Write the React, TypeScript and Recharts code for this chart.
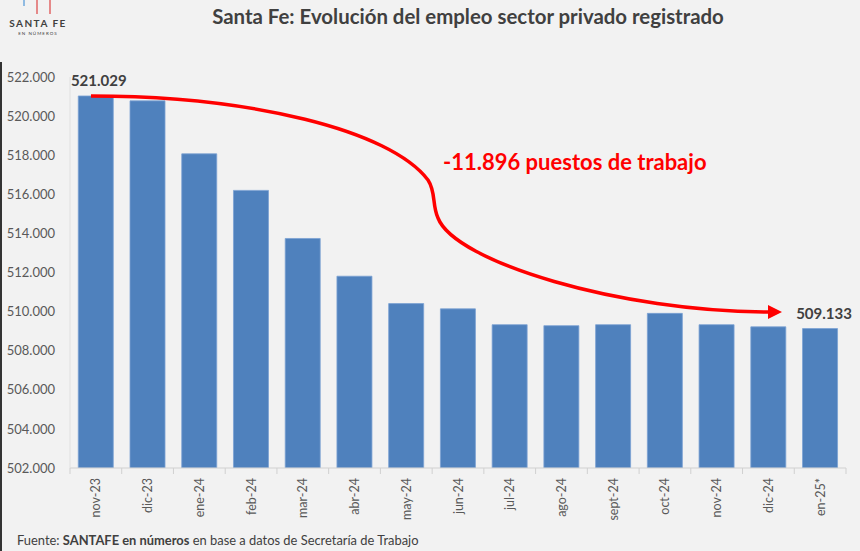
import React from 'react';
import { BarChart, Bar, XAxis, YAxis, LabelList } from 'recharts';

const categories = ['nov-23','dic-23','ene-24','feb-24','mar-24','abr-24','may-24','jun-24','jul-24','ago-24','sept-24','oct-24','nov-24','dic-24','en-25*'];
const empleo = [521029, 520780, 518070, 516200, 513740, 511810, 510410, 510140, 509330, 509280, 509330, 509910, 509330, 509220, 509133];
const yTicks = [502000, 504000, 506000, 508000, 510000, 512000, 514000, 516000, 518000, 520000, 522000];
const titulo = 'Santa Fe: Evolución del empleo sector privado registrado';
const anotacion = '-11.896 puestos de trabajo';

const data = categories.map((c, i) => ({ cat: c, v: empleo[i] }));
const fmt = (n: number) => n.toLocaleString('de-DE');

const W = 860, H = 551;
const PLOT_L = 70, PLOT_R = 846, PLOT_T = 77, PLOT_B = 468;
const BAND = (PLOT_R - PLOT_L) / categories.length;
const FONT = 'Lato, "Open Sans", sans-serif';

const XTick = (props: any) => {
  const { x, y, payload, index } = props;
  const last = index === categories.length - 1;
  return (
    <g>
      <line x1={x - BAND / 2} x2={x - BAND / 2} y1={y} y2={y + 6} stroke="#d0d0d0" />
      {last && <line x1={x + BAND / 2} x2={x + BAND / 2} y1={y} y2={y + 6} stroke="#d0d0d0" />}
      <text
        x={0}
        y={0}
        transform={`translate(${x},${y + 10}) rotate(-90)`}
        textAnchor="end"
        dominantBaseline="central"
        fontSize={12.5}
        fill="#595959"
        fontFamily={FONT}
      >
        {payload.value}
      </text>
    </g>
  );
};

const EndLabel = (props: any) => {
  const { x, y, width, value, index } = props;
  if (index !== 0 && index !== categories.length - 1) return null;
  const dx = index === 0 ? 3 : 4;
  return (
    <text x={x + width / 2 + dx} y={y - 10} textAnchor="middle" fontSize={15} fontWeight={700} fill="#404040" fontFamily={FONT}>
      {fmt(value)}
    </text>
  );
};

export default function App() {
  return (
    <div style={{ position: 'absolute', left: 0, top: 0, width: W, height: H, background: '#f2f2f2', fontFamily: FONT, overflow: 'hidden' }}>
      <div style={{ position: 'absolute', left: 0, top: 62, width: 2, height: H - 62, background: '#333' }} />
      <svg style={{ position: 'absolute', left: 0, top: 0 }} width={80} height={45}>
        <line x1={24} x2={24} y1={0} y2={6} stroke="#6fa8dc" strokeWidth={1.5} />
        <line x1={37} x2={37} y1={0} y2={14} stroke="#e06666" strokeWidth={1.5} />
        <line x1={50} x2={50} y1={0} y2={14} stroke="#e06666" strokeWidth={1.5} />
        <text x={38} y={27} textAnchor="middle" fontSize={10} fontWeight={700} fill="#404040" letterSpacing={1.5} fontFamily={FONT}>SANTA FE</text>
        <text x={38} y={35} textAnchor="middle" fontSize={4.5} fill="#404040" letterSpacing={1} fontFamily={FONT}>EN NÚMEROS</text>
      </svg>
      <div style={{ position: 'absolute', left: 0, width: 936, top: 4, textAlign: 'center', fontSize: 20.4, fontWeight: 700, color: '#404040' }}>
        {titulo}
      </div>
      <BarChart
        width={W}
        height={H}
        data={data}
        margin={{ top: PLOT_T, right: W - PLOT_R, bottom: 0, left: 0 }}
        barCategoryGap="16%"
        style={{ position: 'absolute', left: 0, top: 0 }}
      >
        <XAxis
          dataKey="cat"
          interval={0}
          tickLine={false}
          tickSize={0}
          tickMargin={0}
          axisLine={{ stroke: '#d0d0d0' }}
          tick={<XTick />}
          height={H - PLOT_B}
        />
        <YAxis
          width={PLOT_L}
          domain={[502000, 522000]}
          ticks={yTicks}
          allowDataOverflow
          tickLine={false}
          tickSize={0}
          tickMargin={15}
          axisLine={{ stroke: '#e0e0e0' }}
          tickFormatter={fmt}
          tick={{ fontSize: 13, fill: '#595959', fontFamily: FONT }}
        />
        <Bar dataKey="v" fill="#4f81bd" stroke="#7ba1d3" strokeWidth={0.8} isAnimationActive={false}>
          <LabelList dataKey="v" content={<EndLabel />} />
        </Bar>
      </BarChart>
      <svg style={{ position: 'absolute', left: 0, top: 0, pointerEvents: 'none' }} width={W} height={H}>
        <path
          d="M 91 96 C 250 96, 390 130, 428 180 C 436 192, 432 205, 438 218 C 455 262, 620 312, 770 312"
          fill="none"
          stroke="#ff0000"
          strokeWidth={3.5}
        />
        <polygon points="782,312 768,305 768,319" fill="#ff0000" />
        <text x={443} y={170} fontSize={22} fontWeight={700} fill="#ff0000" fontFamily={FONT}>{anotacion}</text>
      </svg>
      <div style={{ position: 'absolute', left: 17, top: 532, fontSize: 12.9, color: '#404040' }}>
        Fuente: <b>SANTAFE en números</b> en base a datos de Secretaría de Trabajo
      </div>
    </div>
  );
}
